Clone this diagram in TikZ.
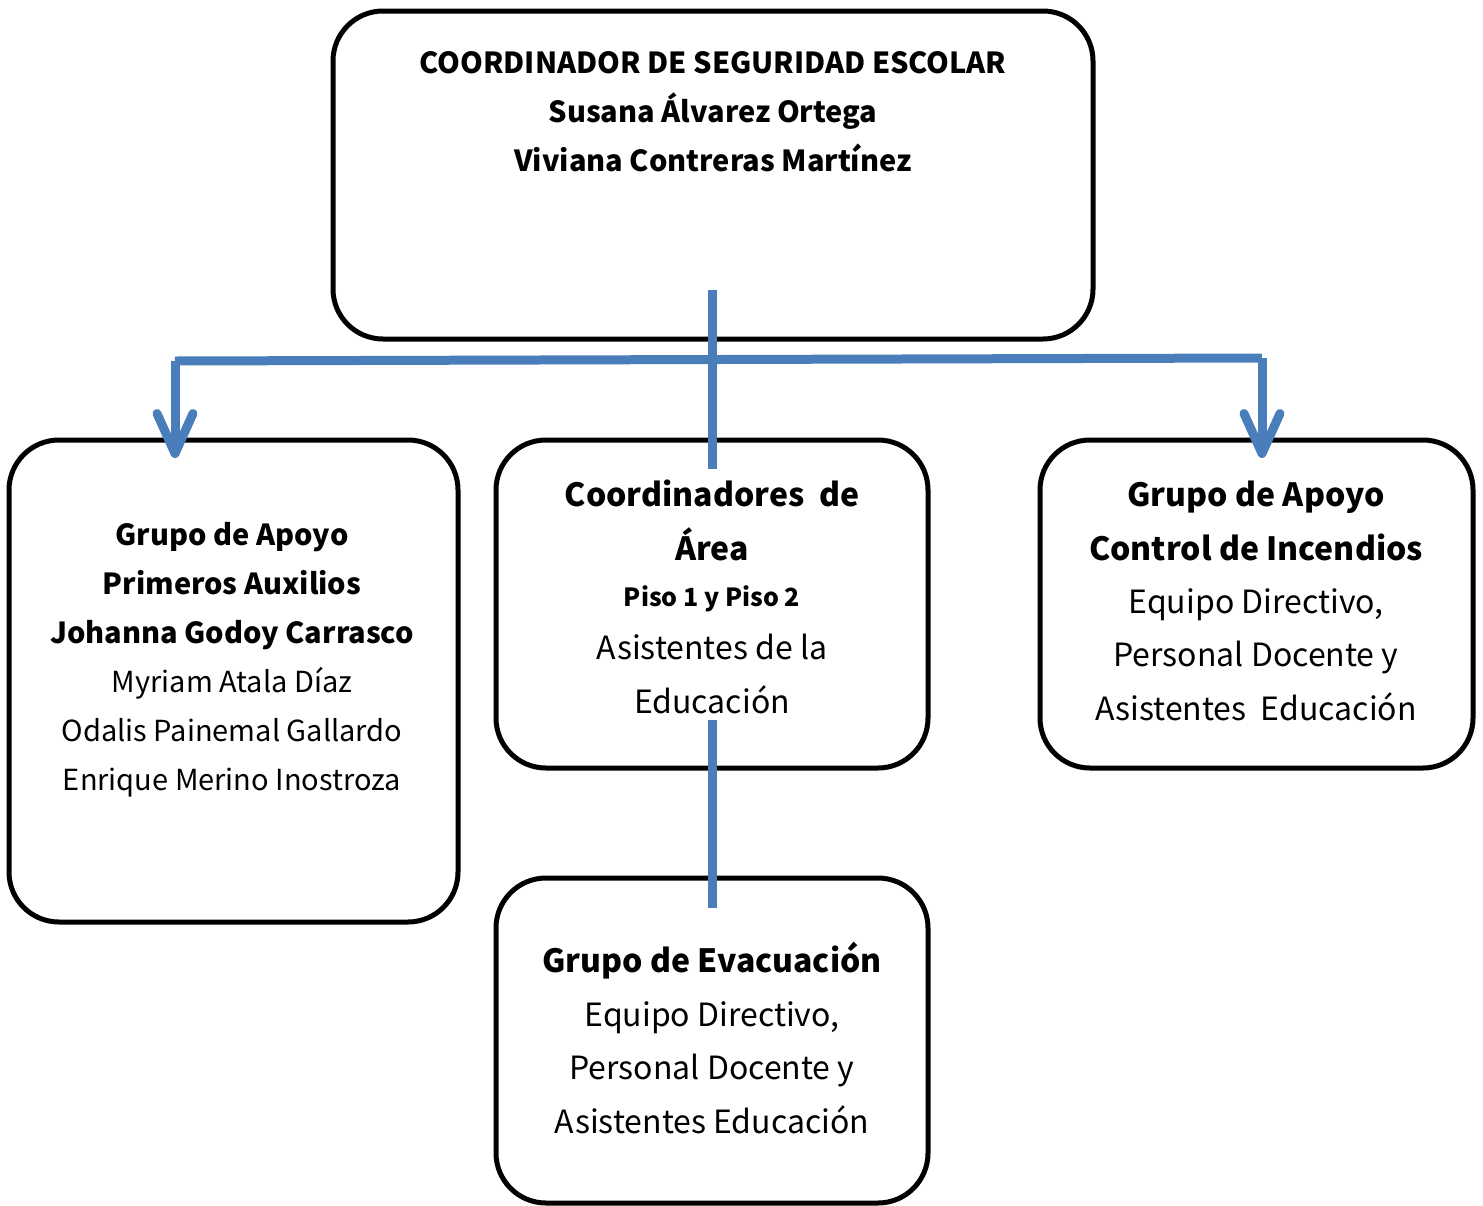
\documentclass[tikz,border=0pt]{standalone}
\usepackage{fontspec}
\setmainfont{Noto Sans CJK JP}
\usetikzlibrary{arrows.meta}
\definecolor{linkblue}{RGB}{74,126,187}
\tikzset{box/.style = {draw, line width=2.5pt, rounded corners=25pt}}
\tikzset{link/.style = {draw=linkblue, line width=4.5pt}}
\tikzset{linkarrow/.style = {link, -{Straight Barb[round, length=20pt, width=18pt]}}}
\tikzset{txt/.style = {align=center, inner sep=0pt}}
\newcommand{\smallsize}{\fontsize{14.5}{24.5}\selectfont}
\newcommand{\bigsize}{\fontsize{16}{26.7}\selectfont}

\begin{document}
\begin{tikzpicture}[x=0.5pt, y=-0.5pt]
\useasboundingbox (0,0) rectangle (1483,1205);
% boxes
\node[box, minimum width=380pt, minimum height=164pt] (coord) at (713,175) {};
\node[box, minimum width=224.5pt, minimum height=241pt] (auxilios) at (233.5,681) {};
\node[box, minimum width=216pt, minimum height=164pt] (area) at (712,604) {};
\node[box, minimum width=216.5pt, minimum height=164pt] (incendios) at (1256.5,604) {};
\node[box, minimum width=216pt, minimum height=162.5pt] (evacuacion) at (712,1040.5) {};
% texts
\node[txt, font=\smallsize\bfseries] (coordtxt) at (713,112)
  {COORDINADOR DE SEGURIDAD ESCOLAR\\Susana Álvarez Ortega\\Viviana Contreras Martínez};
\node[txt, font=\smallsize] (auxiliostxt) at (232,660)
  {\textbf{Grupo de Apoyo}\\\textbf{Primeros Auxilios}\\\textbf{Johanna Godoy Carrasco}\\Myriam Atala Díaz\\Odalis Painemal Gallardo\\Enrique Merino Inostroza};
\node[txt, font=\bigsize] (areatxt) at (712,597)
  {\textbf{Coordinadores\ \ de}\\\textbf{Área}\\[-3.5pt]{\fontsize{12.5}{24.5}\selectfont\bfseries Piso 1 y Piso 2}\\Asistentes de la\\Educación};
\node[txt, font=\bigsize] (incendiostxt) at (1256,601)
  {\textbf{Grupo de Apoyo}\\\textbf{Control de Incendios}\\Equipo Directivo,\\Personal Docente y\\Asistentes\ \ Educación};
\node[txt, font=\bigsize] (evacuaciontxt) at (712,1038)
  {\textbf{Grupo de Evacuación}\\Equipo Directivo,\\Personal Docente y\\Asistentes Educación};
% connector ends
\coordinate (down) at (712,290);
\coordinate (areatop) at (712,469);
\coordinate (leftturn) at (175,361);
\coordinate (rightturn) at (1262,358);
\coordinate (lefttip) at (175,458);
\coordinate (righttip) at (1262,458);
\coordinate (areabottom) at (712,720);
\coordinate (evactop) at (712,908);
% connectors
\draw[link] (down) -- (areatop);
\draw[link] (leftturn) -- (rightturn);
\draw[linkarrow] (leftturn) -- (lefttip);
\draw[linkarrow] (rightturn) -- (righttip);
\draw[link] (areabottom) -- (evactop);
\end{tikzpicture}
\end{document}
